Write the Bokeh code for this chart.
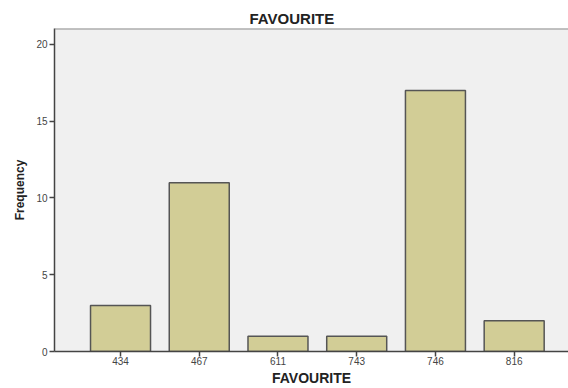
from bokeh.plotting import figure
from bokeh.models import FixedTicker, Range1d, Span, ColumnDataSource
from bokeh.embed import file_html
from bokeh.resources import INLINE

categories = ["434", "467", "611", "743", "746", "816"]
frequency = [3, 11, 1, 1, 17, 2]
y_ticks = [0, 5, 10, 15, 20]

positions = list(range(len(categories)))
src = ColumnDataSource(dict(x=positions, top=frequency))

y_end = 21.04
p = figure(width=568, height=388, output_backend="svg", toolbar_location=None,
           x_range=Range1d(-0.8386, 5.69), y_range=Range1d(0, y_end),
           min_border_left=54, min_border_top=28, min_border_right=0, min_border_bottom=30)

p.background_fill_color = "#f0f0f0"
p.border_fill_color = "white"
p.outline_line_color = None
p.grid.visible = False

p.vbar(x="x", top="top", width=0.762, source=src, fill_color="#d2cd96",
       line_color="#555555", line_width=1.5)

p.add_layout(Span(location=y_end, dimension="width", line_color="#8c8c8c", line_width=2))

p.title.text = "FAVOURITE"
p.title.align = "left"
p.title.offset = 195
p.title.text_font = "Liberation Sans"
p.title.text_font_size = "15px"
p.title.text_font_style = "bold"
p.title.text_color = "#222222"
p.title.standoff = 3

p.xaxis.ticker = FixedTicker(ticks=positions)
p.xaxis.major_label_overrides = {i: c for i, c in zip(positions, categories)}
p.yaxis.ticker = FixedTicker(ticks=y_ticks)

for ax in (p.xaxis, p.yaxis):
    ax.axis_line_color = "#444444"
    ax.axis_line_width = 1.5
    ax.major_tick_line_color = "#444444"
    ax.major_tick_line_width = 1.5
    ax.major_tick_out = 5
    ax.major_tick_in = 0
    ax.minor_tick_line_color = None
    ax.major_label_text_font = "Liberation Sans"
    ax.major_label_text_font_size = "10px"
    ax.major_label_text_color = "#444444"
    ax.axis_label_text_font = "Liberation Sans"
    ax.axis_label_text_font_style = "bold"
    ax.axis_label_text_color = "#222222"

p.xaxis.major_label_standoff = 0
p.yaxis.major_label_standoff = 2
p.xaxis.axis_label = "FAVOURITE"
p.xaxis.axis_label_text_font_size = "14px"
p.xaxis.axis_label_standoff = 2
p.yaxis.axis_label = "Frequency"
p.yaxis.axis_label_text_font_size = "12px"
p.yaxis.axis_label_standoff = 6

open("out.html", "w").write(file_html(p, INLINE))
